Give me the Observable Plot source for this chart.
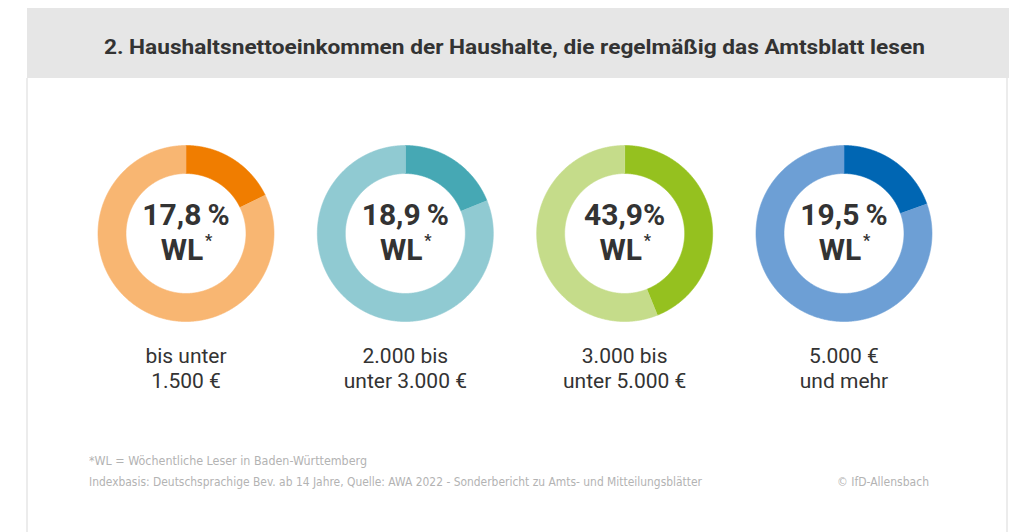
<!DOCTYPE html>
<html>
<head>
<meta charset="utf-8">
<script src="https://cdn.jsdelivr.net/npm/d3@7"></script>
<script src="https://cdn.jsdelivr.net/npm/@observablehq/plot@0.6"></script>
<style>
  html, body { margin: 0; padding: 0; background: #fff; }
  body { width: 1028px; height: 532px; position: relative; overflow: hidden; font-family: Roboto, "Noto Sans", sans-serif; }
  #header { position: absolute; left: 27px; top: 8px; width: 982px; height: 70px; background: #e6e6e6; }
  #title { position: absolute; left: 0; top: 37px; width: 1028px; text-align: center; font-size: 21px; line-height: 21px; font-weight: 700; color: #333; white-space: nowrap; }
  #title span, .foot span { display: inline-block; white-space: nowrap; }
  .border { position: absolute; top: 78px; bottom: 0; width: 2px; background: #ececec; }
  #chart { position: absolute; left: 0; top: 78px; }
  .foot { position: absolute; font-family: "Liberation Sans Narrow", "DejaVu Sans Condensed", Roboto, sans-serif; font-size: 13px; line-height: 13px; color: #b3b3b3; white-space: nowrap; }
</style>
</head>
<body>
<div id="header"></div>
<div class="border" style="left:26px"></div>
<div class="border" style="left:1006px"></div>
<div id="title"><span id="titleText"></span></div>
<div id="chart"></div>
<div class="foot" id="f1" style="left:89px; top:454px"><span></span></div>
<div class="foot" id="f2" style="left:89px; top:475px"><span></span></div>
<div class="foot" id="f3" style="left:837px; top:475px"><span></span></div>
<script>
// ---- data ----
const titleText = "2. Haushaltsnettoeinkommen der Haushalte, die regelmäßig das Amtsblatt lesen";
const categories = ["bis unter\n1.500 €", "2.000 bis\nunter 3.000 €", "3.000 bis\nunter 5.000 €", "5.000 €\nund mehr"];
const shares = [17.8, 18.9, 43.9, 19.5];
const valueLabels = ["17,8\u2009%", "18,9\u2009%", "43,9%", "19,5\u2009%"];
const darkColors = ["#f07d00", "#46a8b4", "#95c11f", "#0066b3"];
const lightColors = ["#f8b672", "#90cad2", "#c5dc8a", "#6d9fd5"];
const footnotes = ["*WL = Wöchentliche Leser in Baden-Württemberg",
  "Indexbasis: Deutschsprachige Bev. ab 14 Jahre, Quelle: AWA 2022 - Sonderbericht zu Amts- und Mitteilungsblätter"];
const credit = "© IfD-Allensbach";

// ---- layout ----
const W = 1028, H = 380;
const UNIT = 219.33;        // px between donut centers
const CX0 = 185.5;          // px of first donut center
const CY = 155;             // px of donut centers in svg
const rOuter = 88 / UNIT, rInner = 60 / UNIT;

const ringRows = [];
shares.forEach((s, i) => {
  const segs = [[0, s, darkColors[i]], [s, 100, lightColors[i]]];
  segs.forEach(([p0, p1, color], k) => {
    const a0 = p0 / 100 * 2 * Math.PI, a1 = p1 / 100 * 2 * Math.PI;
    const n = Math.max(2, Math.ceil((a1 - a0) / (Math.PI / 360)));
    const seg = i + "-" + k;
    for (let j = 0; j <= n; j++) { const a = a0 + (a1 - a0) * j / n; ringRows.push({x: i + rOuter * Math.sin(a), y: rOuter * Math.cos(a), seg, color}); }
    for (let j = n; j >= 0; j--) { const a = a0 + (a1 - a0) * j / n; ringRows.push({x: i + rInner * Math.sin(a), y: rInner * Math.cos(a), seg, color}); }
  });
});

const idx = categories.map((_, i) => i);
const chart = Plot.plot({
  width: W, height: H, margin: 0,
  style: {fontFamily: "Roboto, 'Noto Sans', sans-serif", background: "transparent"},
  x: {domain: [-CX0 / UNIT, (W - CX0) / UNIT], axis: null},
  y: {domain: [-(H - CY) / UNIT, CY / UNIT], axis: null},
  marks: [
    Plot.line(ringRows, {x: "x", y: "y", z: "seg", fill: "color", stroke: "color", strokeWidth: 0.6, curve: "linear"}),
    Plot.text(idx, {x: i => i, y: 0, text: i => valueLabels[i], dy: -18, fontSize: 30, fontWeight: 700, fill: "#333", letterSpacing: -0.5}),
    Plot.text(idx, {x: i => i, y: 0, text: () => "WL", dx: -4, dy: 17, fontSize: 30, fontWeight: 700, fill: "#333"}),
    Plot.text(idx, {x: i => i, y: 0, text: () => "*", dx: 19, dy: 7, fontSize: 16, fontWeight: 700, fill: "#333", textAnchor: "start"}),
    Plot.text(idx, {x: i => i, y: 0, text: i => categories[i], dy: 134, fontSize: 21, lineHeight: 1.17, fill: "#333"})
  ]
});
document.getElementById("chart").appendChild(chart);

// ---- texts ----
function fit(el, target, origin) {
  const w = el.getBoundingClientRect().width;
  if (w > 0) { el.style.transformOrigin = origin; el.style.transform = `scaleX(${target / w})`; }
}
const t = document.getElementById("titleText");
t.textContent = titleText;
fit(t, 821, "center");
const f1 = document.querySelector("#f1 span"); f1.textContent = footnotes[0]; fit(f1, 278, "left");
const f2 = document.querySelector("#f2 span"); f2.textContent = footnotes[1]; fit(f2, 613, "left");
const f3 = document.querySelector("#f3 span"); f3.textContent = credit; fit(f3, 92, "left");
</script>
</body>
</html>
